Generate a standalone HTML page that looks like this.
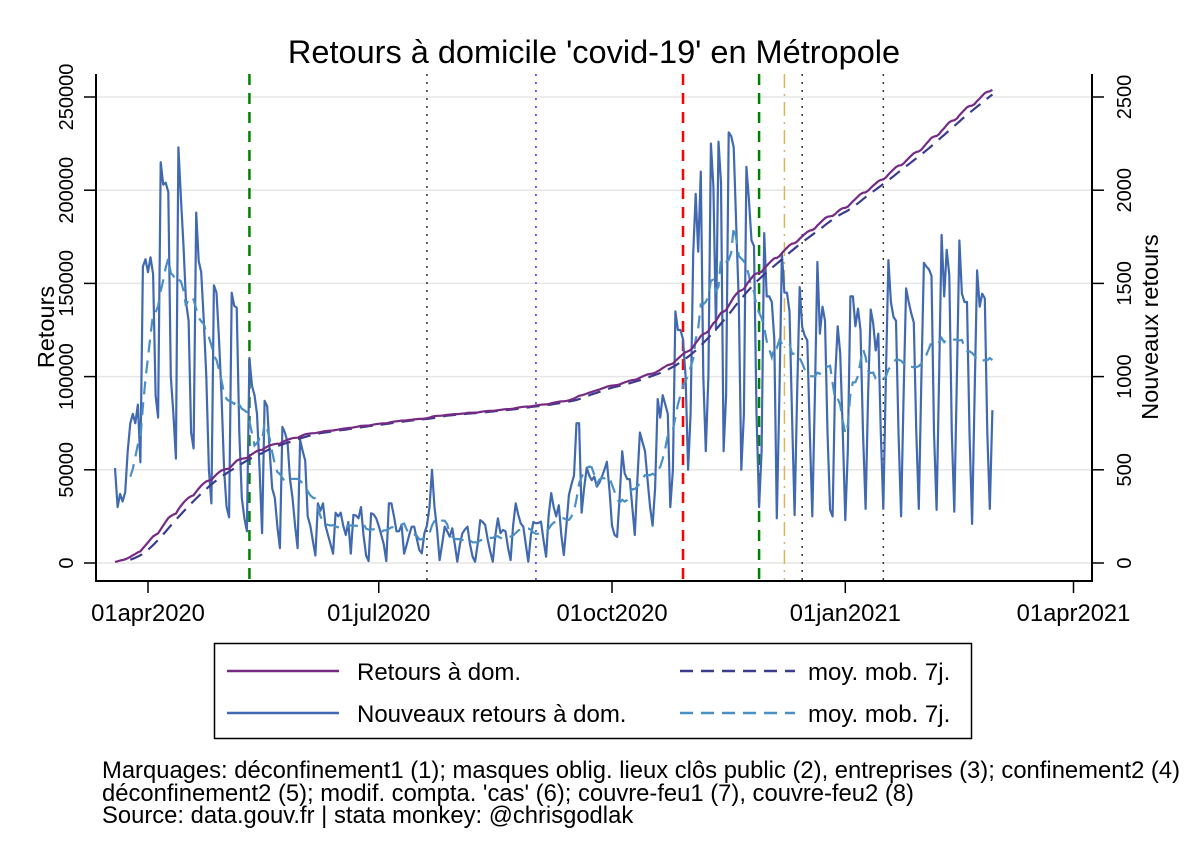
<!DOCTYPE html>
<html><head><meta charset="utf-8"><style>
body{margin:0;background:#fff;}
svg{display:block;font-family:"Liberation Sans",Arial,sans-serif;}
</style></head><body>
<svg id="chart" width="1188" height="864" viewBox="0 0 1188 864" xmlns="http://www.w3.org/2000/svg">
<rect x="0" y="0" width="1188" height="864" fill="#fff"/>
<text x="594" y="63" text-anchor="middle" font-size="32.5" fill="#000">Retours à domicile 'covid-19' en Métropole</text>
<g id="grid"></g>
<g id="markers"></g>
<g id="series"></g>
<g id="axes"></g>
<text transform="translate(54,327) rotate(-90)" text-anchor="middle" font-size="23.5">Retours</text>
<text transform="translate(1158,327) rotate(-90)" text-anchor="middle" font-size="23.5">Nouveaux retours</text>
<g>
<rect x="214.5" y="643.5" width="757" height="95" fill="#fff" stroke="#000" stroke-width="1.5"/>
<line x1="227" y1="671" x2="339" y2="671" stroke="#762a83" stroke-width="2.5"/>
<text x="357" y="680" font-size="24">Retours à dom.</text>
<line x1="227" y1="713" x2="339" y2="713" stroke="#4169b0" stroke-width="2.5"/>
<text x="357" y="722" font-size="24">Nouveaux retours à dom.</text>
<line x1="680" y1="671" x2="795" y2="671" stroke="#3b3b8f" stroke-width="2.5" stroke-dasharray="13,8"/>
<text x="808" y="680" font-size="24">moy. mob. 7j.</text>
<line x1="680" y1="713" x2="795" y2="713" stroke="#4a8fc4" stroke-width="2.5" stroke-dasharray="13,8"/>
<text x="808" y="722" font-size="24">moy. mob. 7j.</text>
</g>
<g font-size="23.8">
<text x="102" y="778">Marquages: déconfinement1 (1); masques oblig. lieux clôs public (2), entreprises (3); confinement2 (4)</text>
<text x="102" y="801">déconfinement2 (5); modif. compta. 'cas' (6); couvre-feu1 (7), couvre-feu2 (8)</text>
<text x="102" y="823">Source: data.gouv.fr | stata monkey: @chrisgodlak</text>
</g>
</svg>
<script>
// day offsets relative to 01apr2020; first value is 19mar2020 (offset -13)
const startOffset = -13;
const daily = [510,300,370,330,380,600,750,800,750,850,540,
1590,1630,1560,1640,1550,900,780,
2150,2030,2040,1990,1000,800,560,
2230,1950,1700,1400,1300,700,615,
1880,1620,1560,1300,1000,500,320,
1490,1450,1200,900,500,300,245,
1450,1380,1370,700,350,240,170,
1100,950,900,800,500,160,
870,840,600,400,350,200,80,
730,700,650,450,350,200,80,
660,600,550,250,200,120,40,
320,280,320,200,150,100,50,
270,250,270,200,150,220,50,258,255,240,300,150,40,10,
267,260,240,200,150,100,10,
320,320,250,170,170,204,50,97,150,195,195,130,70,52,160,200,300,500,300,177,15,100,195,170,141,186,100,7,100,160,180,195,100,34,7,100,230,220,204,123,60,7,150,240,160,177,170,80,15,200,320,260,213,195,100,7,150,220,213,215,222,120,34,250,375,300,250,310,150,43,200,365,420,470,750,750,270,400,510,470,445,463,410,430,463,500,543,390,
200,150,140,350,600,480,450,450,300,150,450,700,650,600,450,300,200,
400,880,780,900,850,800,300,500,1350,1250,1250,1200,1000,500,
800,1660,1980,1670,2100,1000,600,1000,2250,2020,1250,2260,2040,600,900,2310,2290,2230,1800,1400,500,800,2125,1950,1730,1700,800,300,600,1770,1430,1430,1400,1200,240,
900,1660,1450,1450,1350,800,257,900,1480,1265,1220,1195,700,250,900,1615,1230,1375,1300,700,285,250,1000,1270,1125,700,230,600,1430,1430,1270,1365,1250,700,290,900,1360,1285,1140,1230,700,290,1000,1625,1400,1320,1300,700,250,900,1473,1400,1340,1290,700,290,1000,1610,1590,1575,1540,700,285,1000,1760,1430,1680,1545,700,275,1000,1730,1445,1400,1400,700,210,900,1570,1375,1445,1420,700,290,820];
const cumStart = 100;
const leftTicks = [0,50000,100000,150000,200000,250000];
const rightTicks = [0,500,1000,1500,2000,2500];
const xTickDays = [0,91,183,275,365];
const xTickLabels = ["01apr2020","01jul2020","01oct2020","01jan2021","01apr2021"];
const markerDays = [40,110,153,211,241,251,258,290];
const markerColors = ["#008000","#333","#3333ff","#ff0000","#008000","#d9b65a","#333","#333"];
const markerDash = ["11,8","2,6","2,6","11,8","11,8","14,6,2,6","2,6","2,6"];

const NS="http://www.w3.org/2000/svg";
const X0=96,X1=1092,Y0=74,Y1=581;
const xs = d => 148 + d*(1073.5-148)/365;
const yL = v => 563 - v*(466/250000);
const yR = v => 563 - v*(466/2500);
function mk(tag,attrs,parent){const e=document.createElementNS(NS,tag);for(const k in attrs)e.setAttribute(k,attrs[k]);parent.appendChild(e);return e;}
const grid=document.getElementById('grid'),axes=document.getElementById('axes'),ser=document.getElementById('series'),mar=document.getElementById('markers');

leftTicks.forEach((v,i)=>{
  const g=mk('line',{x1:X0,x2:X1,y1:yL(v),y2:yL(v),stroke:'#e6e6e6','stroke-width':1.5},grid);
  
  
  const t=mk('line',{x1:84,x2:X0,y1:yL(v),y2:yL(v),stroke:'#000','stroke-width':1.5},axes);
  
  
  const l=mk('text',{transform:`translate(73,${yL(v)}) rotate(-90)`,'text-anchor':'middle','font-size':20},axes);
  l.textContent=String(v);
  
  
});
rightTicks.forEach(v=>{
  const t=mk('line',{x1:X1,x2:1104,y1:yR(v),y2:yR(v),stroke:'#000','stroke-width':1.5},axes);
  
  
  const l=mk('text',{transform:`translate(1131,${yR(v)}) rotate(-90)`,'text-anchor':'middle','font-size':20},axes);
  l.textContent=String(v);
  
  
});
xTickDays.forEach((d,i)=>{
  const t=mk('line',{x1:xs(d),x2:xs(d),y1:Y1,y2:593,stroke:'#000','stroke-width':1.5},axes);
  
  
  const l=mk('text',{x:xs(d),y:621,'text-anchor':'middle','font-size':23.8},axes);
  l.textContent=xTickLabels[i];
  
  
});
const ax=mk('path',{d:`M${X0},${Y0} V${Y1} H${X1} V${Y0}`,fill:'none',stroke:'#000','stroke-width':2},axes);



markerDays.forEach((d,i)=>{
  const m=mk('line',{x1:xs(d),x2:xs(d),y1:Y0,y2:Y1,stroke:markerColors[i],'stroke-width':i===0||i===3||i===4?2.5:1.5,'stroke-dasharray':markerDash[i]},mar);
  
  
});

const cum=[];let s=cumStart;daily.forEach(v=>{s+=v;cum.push(s);});
function ma(a){return a.map((v,i)=>{if(i<6)return null;let t=0;for(let k=i-6;k<=i;k++)t+=a[k];return t/7;});}
const dailyMA=ma(daily), cumMA=ma(cum);
function pathOf(arr,yf){let p='';arr.forEach((v,i)=>{if(v==null)return;const c=(p===''?'M':'L');p+=c+xs(startOffset+i).toFixed(1)+','+yf(v).toFixed(1)+' ';});return p;}
const p1=mk('path',{d:pathOf(daily,yR),fill:'none',stroke:'#4169b0','stroke-width':2.2,'stroke-linejoin':'round'},ser);


const p2=mk('path',{d:pathOf(dailyMA,yR),fill:'none',stroke:'#4a8fc4','stroke-width':2.2,'stroke-dasharray':'13,8'},ser);


const p3=mk('path',{d:pathOf(cumMA,yL),fill:'none',stroke:'#3b3b8f','stroke-width':2.2,'stroke-dasharray':'13,8'},ser);


const p4=mk('path',{d:pathOf(cum,yL),fill:'none',stroke:'#762a83','stroke-width':2.2},ser);


</script>
</body></html>
